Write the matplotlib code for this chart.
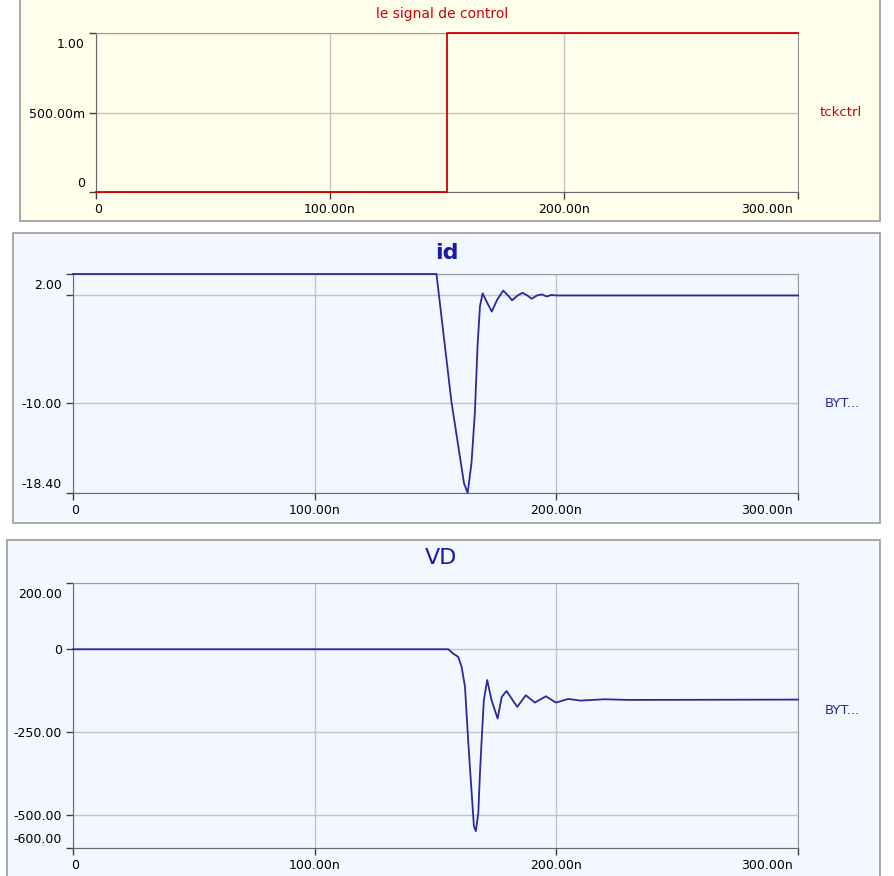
import matplotlib
matplotlib.use('Agg')
import matplotlib.pyplot as plt
from matplotlib.patches import Rectangle
from matplotlib.transforms import offset_copy

plt.rcParams['font.family'] = ['DejaVu Sans']
plt.rcParams['font.size'] = 9

# ── data (time in ns) ───────────────────────────────────────────────────────
t_ctrl = [0, 150, 150, 300]
v_ctrl = [0, 0, 1, 1]

t_id = [0, 150.4, 156.6, 161.8, 163.3, 164.9, 166.3, 167.4, 168.4, 169.5,
        171.2, 173.3, 175.5, 178.0, 180.0, 181.7, 184.0, 186.0, 188.0, 189.8,
        192.0, 194.0, 196.0, 198.0, 200.0, 300.0]
v_id = [2.0, 2.0, -9.9, -17.5, -18.4, -15.6, -10.9, -4.7, -1.0, 0.2,
        -0.6, -1.5, -0.4, 0.45, 0.0, -0.45, 0.0, 0.25, 0.0, -0.3,
        0.0, 0.1, -0.1, 0.05, 0.0, 0.0]

t_vd = [0, 155.3, 157.3, 159.4, 160.8, 162.2, 163.5, 164.5, 165.9, 166.7,
        167.7, 168.4, 169.1, 170.0, 171.4, 173.2, 175.7, 177.4, 179.4, 183.8,
        187.4, 191.1, 195.7, 199.8, 205, 210, 220, 230, 300]
v_vd = [0, 0, -13, -23, -53, -113, -273, -384, -534, -549,
        -495, -374, -274, -154, -93, -154, -209, -144, -126, -174,
        -139, -161, -142, -161, -150, -155, -151, -153, -152]

x_ticks = [0, 100, 200, 300]
x_labels = ['0', '100.00n', '200.00n', '300.00n']

ctrl_ticks = [0, 0.5, 1.0]
ctrl_labels = ['0', '500.00m', '1.00']
id_ticks = [-18.4, -10, 0, 2]
id_labels = ['-18.40', '-10.00', '', '2.00']
vd_ticks = [-600, -500, -250, 0, 200]
vd_labels = ['-600.00', '-500.00', '-250.00', '0', '200.00']

C_RED = '#CC0000'
C_BLUE = '#2A2A9C'
C_TITLE = '#1A1AA8'
BG_YELLOW = '#FFFFEB'
BG_BLUE = '#F3F7FF'

W, H = 894, 876
fig = plt.figure(figsize=(W / 100, H / 100), dpi=100)


def px_rect(x0, y0, x1, y1):
    # pixel box (top-left origin) -> figure fraction [l, b, w, h]
    return [x0 / W, 1 - y1 / H, (x1 - x0) / W, (y1 - y0) / H]


def panel(x0, y0, x1, y1, color):
    l, b, w, h = px_rect(x0, y0, x1, y1)
    fig.patches.append(Rectangle((l, b), w, h, transform=fig.transFigure,
                                 facecolor=color, edgecolor='#9A9A9A',
                                 linewidth=1.2, zorder=-5))


def shift(label, dx=0, dy=0):
    label.set_transform(offset_copy(label.get_transform(), fig=fig,
                                    x=dx, y=dy, units='dots'))


def setup_axes(rect, yticks, ylabels, ylim):
    ax = fig.add_axes(px_rect(*rect))
    ax.set_facecolor('none')
    ax.set_xlim(0, 300)
    ax.set_ylim(*ylim)
    ax.set_xticks(x_ticks)
    ax.set_xticklabels(x_labels)
    ax.set_yticks(yticks)
    ax.set_yticklabels(ylabels)
    ax.grid(True, color='#C4C4C4', linewidth=1.0)
    ax.set_axisbelow(True)
    for side in ['top', 'right']:
        ax.spines[side].set_color('#9A9A9A')
    for side in ['left', 'bottom']:
        ax.spines[side].set_color('#6A6A6A')
    ax.tick_params(direction='out', length=5, width=1, color='#404040',
                   labelsize=9, pad=3)
    # end labels are pulled inside, like the simulator does
    ylabs = ax.get_yticklabels()
    shift(ylabs[-1], dy=-10)
    shift(ylabs[0], dy=10)
    xlabs = ax.get_xticklabels()
    xlabs[-1].set_horizontalalignment('right')
    shift(xlabs[-1], dx=-5)
    shift(xlabs[0], dx=2)
    return ax


# ── background panels ──────────────────────────────────────────────────────
panel(20, -5, 880, 221, BG_YELLOW)
panel(13, 233, 880, 523, BG_BLUE)
panel(7, 540, 880, 885, BG_BLUE)

# ── panel 1: control signal ────────────────────────────────────────────────
ax1 = setup_axes((96, 33, 798, 192), ctrl_ticks, ctrl_labels, (0, 1))
ax1.plot(t_ctrl, v_ctrl, color=C_RED, linewidth=1.3, clip_on=False, zorder=3)
fig.text(442 / W, 1 - 14 / H, 'le signal de control', color=C_RED,
         fontsize=10, ha='center', va='center')
fig.text(841 / W, 1 - 113 / H, 'tckctrl', color=C_RED, fontsize=9.5,
         ha='center', va='center')

# ── panel 2: id ────────────────────────────────────────────────────────────
ax2 = setup_axes((73, 274, 798, 493), id_ticks, id_labels, (-18.4, 2))
ax2.plot(t_id, v_id, color=C_BLUE, linewidth=1.3, clip_on=False, zorder=3)
fig.text(447 / W, 1 - 253 / H, 'id', color=C_TITLE, fontsize=16,
         fontweight='bold', ha='center', va='center')
fig.text(842 / W, 1 - 404 / H, 'BYT...', color=C_BLUE, fontsize=9.5,
         ha='center', va='center')

# ── panel 3: VD ────────────────────────────────────────────────────────────
ax3 = setup_axes((73, 583, 798, 848), vd_ticks, vd_labels, (-600, 200))
ax3.plot(t_vd, v_vd, color=C_BLUE, linewidth=1.3, clip_on=False, zorder=3)
fig.text(441 / W, 1 - 558 / H, 'VD', color=C_TITLE, fontsize=16,
         ha='center', va='center')
fig.text(842 / W, 1 - 710 / H, 'BYT...', color=C_BLUE, fontsize=9.5,
         ha='center', va='center')

fig.savefig('out.png', dpi=100, facecolor='white')
